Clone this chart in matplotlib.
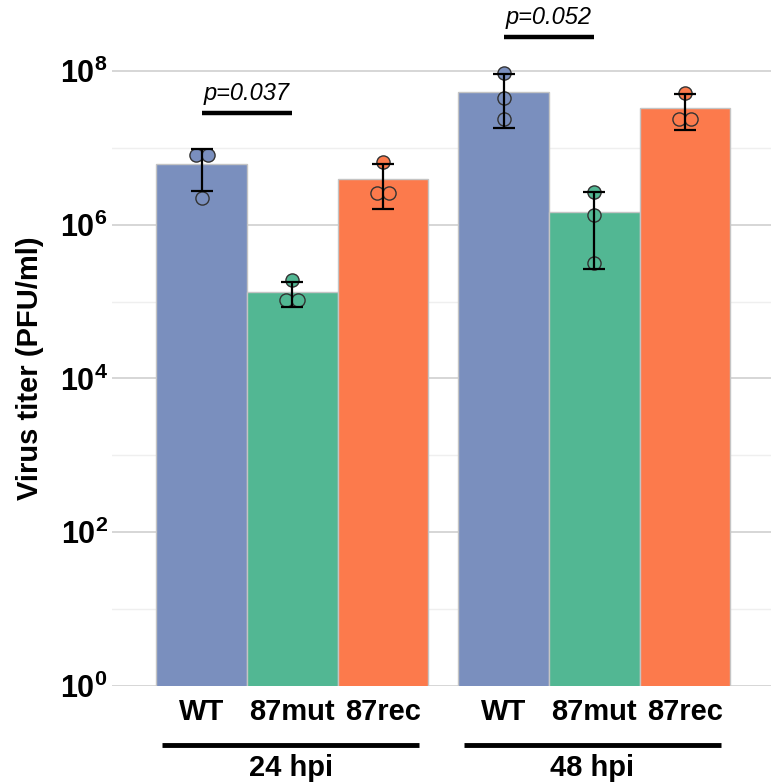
import numpy as np
import matplotlib
matplotlib.use("Agg")
import matplotlib.pyplot as plt
import matplotlib.transforms as mtransforms

plt.rcParams['font.family'] = ['Liberation Sans', 'DejaVu Sans']
plt.rcParams['mathtext.fontset'] = 'custom'
plt.rcParams['mathtext.rm'] = 'Liberation Sans:bold'
plt.rcParams['mathtext.bf'] = 'Liberation Sans:bold'

# replicate titers (PFU/ml), three per strain
strains = ['WT', '87mut', '87rec']
timepoints = ['24 hpi', '48 hpi']
colors = ['#7a8fbe', '#52b793', '#fc7a4c']

titer_24 = [
    [8.1e6, 8.1e6, 2.2e6],
    [1.9e5, 1.05e5, 1.05e5],
    [6.6e6, 2.6e6, 2.6e6],
]
titer_48 = [
    [9.4e7, 4.4e7, 2.4e7],
    [2.7e6, 1.35e6, 3.2e5],
    [5.2e7, 2.4e7, 2.4e7],
]
pvalues = ['p=0.037', 'p=0.052']

fig = plt.figure(figsize=(7.71, 7.83), dpi=100)
ax = fig.add_axes([112 / 771, 1 - 686 / 783, 1 - 112 / 771, 686 / 783])

group_gap = 3.33
ymax = 10 ** (8 + 71 / 76.9)

for g, data in enumerate([titer_24, titer_48]):
    x0 = g * group_gap
    for i, vals in enumerate(data):
        vals = np.array(vals)
        x = x0 + i
        mean = vals.mean()
        sd = vals.std(ddof=1)
        ax.bar(x, mean, width=1.0, color=colors[i], edgecolor='#c4c4c4',
               linewidth=1.0, zorder=2)
        # dodge replicates that share a value
        offs = np.zeros(len(vals))
        for v in np.unique(vals):
            idx = np.where(vals == v)[0]
            if len(idx) > 1:
                offs[idx] = np.linspace(-0.066, 0.066, len(idx))
        ax.scatter(x + offs, vals, s=90, facecolor=colors[i],
                   edgecolor='#333333', linewidth=1.0, zorder=3)
        ax.errorbar(x, mean, yerr=[[mean - max(mean - sd, 1)], [sd]],
                    fmt='none', ecolor='black', elinewidth=1.6,
                    capsize=8, capthick=1.6, zorder=4)

    # WT vs 87mut comparison
    top = max(max(data[0]), max(data[1]))
    ly = top * 10 ** 0.55 if g == 0 else top * 10 ** 0.47
    ax.plot([x0, x0 + 1], [ly, ly], color='black', lw=3.2,
            solid_capstyle='butt', zorder=5, clip_on=False)
    ax.text(x0 + 0.5, ly * 10 ** 0.1, pvalues[g], ha='center', va='bottom',
            fontsize=17, style='italic', zorder=5)

ax.set_yscale('log')
ax.set_ylim(1, ymax)
ax.set_xlim(-0.99, 6.28)

major = [10.0 ** k for k in range(0, 9, 2)]
minor = [10.0 ** k for k in range(1, 9, 2)]
ax.set_yticks(major)
ax.set_yticklabels([r'$\mathbf{10^{%d}}$' % k for k in range(0, 9, 2)],
                   fontsize=22)
ax.set_yticks(minor, minor=True)
ax.yaxis.set_minor_formatter(plt.NullFormatter())
ax.grid(axis='y', which='major', color='#cfcfcf', lw=1.2, zorder=0)
ax.grid(axis='y', which='minor', color='#efefef', lw=1.0, zorder=0)
ax.tick_params(axis='y', which='both', length=0, pad=3)
ax.set_axisbelow(True)

xpos = [g * group_gap + i for g in range(2) for i in range(3)]
ax.set_xticks(xpos)
ax.set_xticklabels(strains * 2, fontsize=21, fontweight='bold')
ax.tick_params(axis='x', length=0, pad=9)
for s in ax.spines.values():
    s.set_visible(False)

trans = mtransforms.blended_transform_factory(ax.transData, fig.transFigure)
for g, tp in enumerate(timepoints):
    x0 = g * group_gap
    ax.plot([x0 - 0.44, x0 + 2.4], [1 - 745 / 783] * 2, color='black', lw=3.5,
            transform=trans, clip_on=False, solid_capstyle='butt')
    ax.text(x0 + 0.98, 1 - 768 / 783, tp, transform=trans, ha='center',
            va='center', fontsize=21, fontweight='bold')

fig.text(30 / 771, 1 - 368 / 783, 'Virus titer (PFU/ml)', rotation=90,
         ha='center', va='center', fontsize=21, fontweight='bold')

fig.savefig('out.png', dpi=100)
